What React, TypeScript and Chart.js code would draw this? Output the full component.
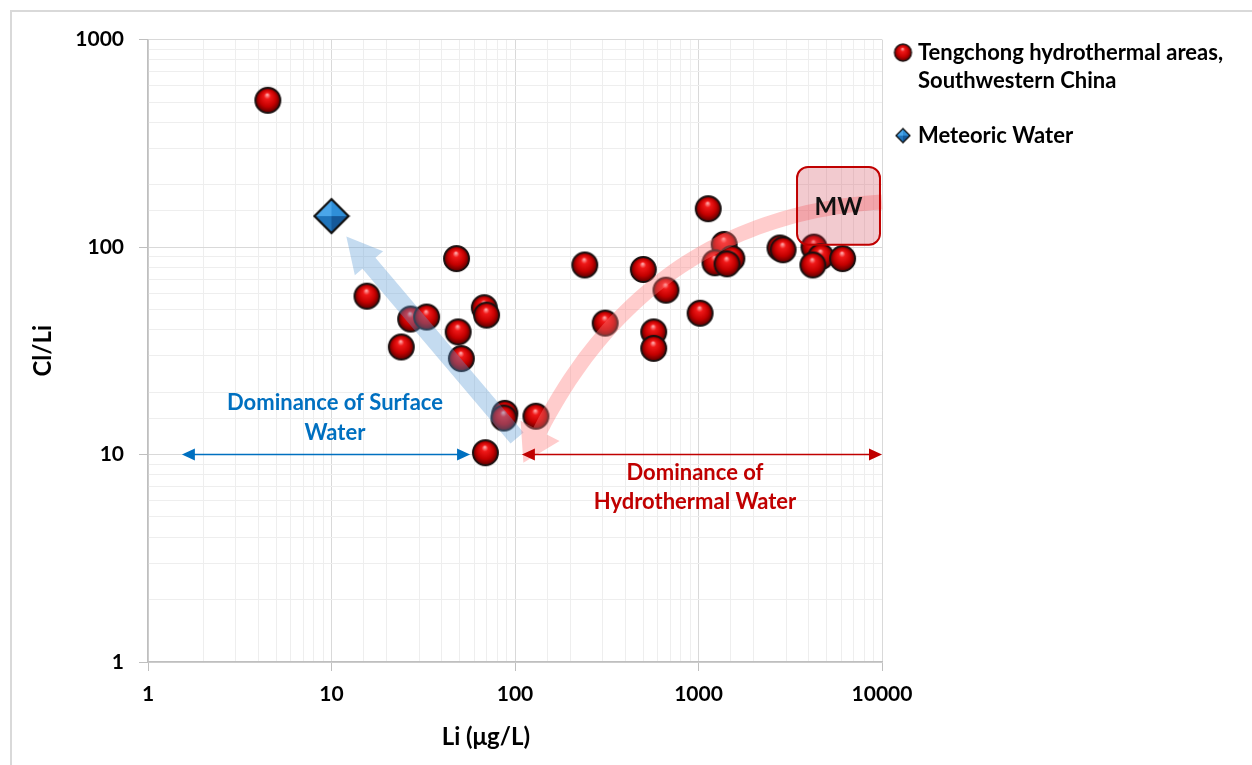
import React, { useEffect, useRef } from 'react';
import { Chart, registerables } from 'chart.js';

Chart.register(...registerables);

// ---------- data ----------
const tengchongLi = [4.5, 15.6, 48, 27, 33, 24, 49, 51, 68, 70, 88, 87, 69, 130, 240, 310, 500, 665, 570, 570, 1020, 1130, 1380, 1230, 1520, 1430, 2780, 2890, 4260, 4650, 4200, 6100];
const tengchongClLi = [510, 58, 88, 45, 46, 33, 39, 29, 51, 47, 15.8, 15, 10.2, 15.3, 82, 43, 78, 62, 39, 32.5, 48, 153, 103, 84, 88, 83, 99, 97, 100, 90, 82, 88];
const meteoricLi = [10];
const meteoricClLi = [141];

const seriesLabels = ['Tengchong hydrothermal areas, Southwestern China', 'Meteoric Water'];
const legendLines = [['Tengchong hydrothermal areas,', 'Southwestern China'], ['Meteoric Water']];

const xMin = 1;
const xMax = 10000;
const yMin = 1;
const yMax = 1000;
const xTitle = 'Li (μg/L)';
const yTitle = 'Cl/Li';

// annotation anchors (data units)
const surfaceArrowTail = [102.6, 12.0];
const surfaceArrowBase = [16.0, 83.6];
const hydroArrowStart = [10000, 165];
const hydroArrowControl = [544, 140];
const hydroArrowEnd = [137, 13.0];
const rangeLevel = 10;
const surfaceRange = [1.53, 56.9];
const hydroRange = [109, 10000];
const surfaceTextAt = [10.45, 17.7];
const surfaceTextLines = ['Dominance of Surface', 'Water'];
const hydroTextAt = [957, 8.17];
const hydroTextLines = ['Dominance of', 'Hydrothermal Water'];
const mwBoxX = [3443, 9750];
const mwBoxY = [243, 102.6];
const mwLabel = 'MW';

const FONT = 'Lato';

const isPow10 = (v: number) => {
  const l = Math.log10(v);
  return Math.abs(l - Math.round(l)) < 1e-6;
};

function makeSphere(d: number) {
  const s = Math.ceil(d) + 4;
  const c = document.createElement('canvas');
  c.width = s;
  c.height = s;
  const g = c.getContext('2d')!;
  const r = d / 2;
  const cx = s / 2;
  const cy = s / 2;
  const grad = g.createRadialGradient(cx - r * 0.05, cy - r * 0.45, r * 0.05, cx, cy, r);
  grad.addColorStop(0, '#ffa0a0');
  grad.addColorStop(0.22, '#f01818');
  grad.addColorStop(0.65, '#c40000');
  grad.addColorStop(1, '#5a0000');
  g.beginPath();
  g.arc(cx, cy, r, 0, Math.PI * 2);
  g.fillStyle = grad;
  g.fill();
  g.lineWidth = Math.max(1.2, d / 13);
  g.strokeStyle = '#1a1010';
  g.stroke();
  return c;
}

function makeDiamond(d: number) {
  const s = Math.ceil(d) + 4;
  const c = document.createElement('canvas');
  c.width = s;
  c.height = s;
  const g = c.getContext('2d')!;
  const h = d / 2;
  const cx = s / 2;
  const cy = s / 2;
  const face = (pts: number[][], col: string) => {
    g.beginPath();
    g.moveTo(pts[0][0], pts[0][1]);
    for (let i = 1; i < pts.length; i++) g.lineTo(pts[i][0], pts[i][1]);
    g.closePath();
    g.fillStyle = col;
    g.fill();
  };
  face([[cx, cy - h], [cx - h, cy], [cx, cy]], '#4aa6ea');
  face([[cx, cy - h], [cx + h, cy], [cx, cy]], '#2f8fd8');
  face([[cx - h, cy], [cx, cy + h], [cx, cy]], '#1f74bb');
  face([[cx + h, cy], [cx, cy + h], [cx, cy]], '#15599a');
  g.beginPath();
  g.moveTo(cx, cy - h);
  g.lineTo(cx + h, cy);
  g.lineTo(cx, cy + h);
  g.lineTo(cx - h, cy);
  g.closePath();
  g.lineWidth = Math.max(1.3, d / 15);
  g.strokeStyle = '#111';
  g.lineJoin = 'miter';
  g.stroke();
  return c;
}

function bandArrow(ctx: CanvasRenderingContext2D, pts: number[][], shaftW: number, headW: number, headL: number, fill: string) {
  const n = pts.length;
  const left: number[][] = [];
  const right: number[][] = [];
  for (let i = 0; i < n; i++) {
    const a = pts[Math.max(0, i - 1)];
    const b = pts[Math.min(n - 1, i + 1)];
    let dx = b[0] - a[0];
    let dy = b[1] - a[1];
    const L = Math.hypot(dx, dy) || 1;
    dx /= L;
    dy /= L;
    left.push([pts[i][0] - dy * shaftW / 2, pts[i][1] + dx * shaftW / 2]);
    right.push([pts[i][0] + dy * shaftW / 2, pts[i][1] - dx * shaftW / 2]);
  }
  const e = pts[n - 1];
  const p = pts[n - 2];
  let dx = e[0] - p[0];
  let dy = e[1] - p[1];
  const L = Math.hypot(dx, dy) || 1;
  dx /= L;
  dy /= L;
  const tip = [e[0] + dx * headL, e[1] + dy * headL];
  ctx.beginPath();
  ctx.moveTo(left[0][0], left[0][1]);
  for (let i = 1; i < n; i++) ctx.lineTo(left[i][0], left[i][1]);
  ctx.lineTo(e[0] - dy * headW / 2, e[1] + dx * headW / 2);
  ctx.lineTo(tip[0], tip[1]);
  ctx.lineTo(e[0] + dy * headW / 2, e[1] - dx * headW / 2);
  for (let i = n - 1; i >= 0; i--) ctx.lineTo(right[i][0], right[i][1]);
  ctx.closePath();
  ctx.fillStyle = fill;
  ctx.fill();
}

function doubleArrow(ctx: CanvasRenderingContext2D, x1: number, x2: number, y: number, color: string) {
  const hl = 13;
  const hw = 6;
  ctx.save();
  ctx.strokeStyle = color;
  ctx.fillStyle = color;
  ctx.lineWidth = 1.6;
  ctx.beginPath();
  ctx.moveTo(x1 + hl - 1, y);
  ctx.lineTo(x2 - hl + 1, y);
  ctx.stroke();
  ctx.beginPath();
  ctx.moveTo(x1, y);
  ctx.lineTo(x1 + hl, y - hw);
  ctx.lineTo(x1 + hl, y + hw);
  ctx.closePath();
  ctx.fill();
  ctx.beginPath();
  ctx.moveTo(x2, y);
  ctx.lineTo(x2 - hl, y - hw);
  ctx.lineTo(x2 - hl, y + hw);
  ctx.closePath();
  ctx.fill();
  ctx.restore();
}

export default function App() {
  const ref = useRef<HTMLCanvasElement | null>(null);

  useEffect(() => {
    if (!ref.current) return;
    const sphere = makeSphere(25);
    const diamond = makeDiamond(34);
    const legendSprites = [makeSphere(17), makeDiamond(14)];

    const annotationPlugin = {
      id: 'annotations',
      afterDatasetsDraw(chart: any) {
        const { ctx } = chart;
        const xs = chart.scales.x;
        const ys = chart.scales.y;
        const px = (v: number) => xs.getPixelForValue(v);
        const py = (v: number) => ys.getPixelForValue(v);
        ctx.save();

        // blue straight arrow
        bandArrow(
          ctx,
          [
            [px(surfaceArrowTail[0]), py(surfaceArrowTail[1])],
            [px(surfaceArrowBase[0]), py(surfaceArrowBase[1])],
          ],
          17, 37, 35, 'rgba(91,155,213,0.36)'
        );

        // pink curved arrow
        const p0 = [px(hydroArrowStart[0]), py(hydroArrowStart[1])];
        const p1 = [px(hydroArrowControl[0]), py(hydroArrowControl[1])];
        const p2 = [px(hydroArrowEnd[0]), py(hydroArrowEnd[1])];
        const curve: number[][] = [];
        const N = 48;
        for (let i = 0; i <= N; i++) {
          const t = i / N;
          const a = (1 - t) * (1 - t);
          const b = 2 * t * (1 - t);
          const c = t * t;
          curve.push([a * p0[0] + b * p1[0] + c * p2[0], a * p0[1] + b * p1[1] + c * p2[1]]);
        }
        bandArrow(ctx, curve, 15, 44, 36, 'rgba(255,120,120,0.38)');

        // MW box
        const bx1 = px(mwBoxX[0]);
        const bx2 = px(mwBoxX[1]);
        const by1 = py(mwBoxY[0]);
        const by2 = py(mwBoxY[1]);
        ctx.beginPath();
        ctx.roundRect(bx1, by1, bx2 - bx1, by2 - by1, 11);
        ctx.fillStyle = 'rgba(205,50,70,0.26)';
        ctx.fill();
        ctx.lineWidth = 2;
        ctx.strokeStyle = '#c00000';
        ctx.stroke();
        ctx.fillStyle = '#111';
        ctx.font = `bold 24px ${FONT}`;
        ctx.textAlign = 'center';
        ctx.textBaseline = 'middle';
        ctx.fillText(mwLabel, (bx1 + bx2) / 2, (by1 + by2) / 2 + 1);

        // range arrows
        doubleArrow(ctx, px(surfaceRange[0]), px(surfaceRange[1]), py(rangeLevel), '#0070c0');
        doubleArrow(ctx, px(hydroRange[0]), px(hydroRange[1]), py(rangeLevel), '#c00000');

        // range texts
        ctx.font = `bold 22px ${FONT}`;
        ctx.fillStyle = '#0070c0';
        surfaceTextLines.forEach((t, i) => ctx.fillText(t, px(surfaceTextAt[0]), py(surfaceTextAt[1]) + i * 30));
        ctx.fillStyle = '#c00000';
        hydroTextLines.forEach((t, i) => ctx.fillText(t, px(hydroTextAt[0]), py(hydroTextAt[1]) + i * 29));
        ctx.restore();
      },
      afterDraw(chart: any) {
        const { ctx } = chart;
        const area = chart.chartArea;
        ctx.save();
        ctx.font = `bold 22px ${FONT}`;
        ctx.fillStyle = '#000';
        ctx.textAlign = 'left';
        ctx.textBaseline = 'middle';
        const lx = area.right + 21;
        const tx = area.right + 36;
        let y = area.top + 13;
        legendLines.forEach((lines, i) => {
          const sp = legendSprites[i];
          ctx.drawImage(sp, lx - sp.width / 2, y - sp.height / 2);
          lines.forEach((l, j) => ctx.fillText(l, tx, y + j * 28));
          y += lines.length * 28 + 27;
        });
        ctx.restore();
      },
    };

    const tickFont = { family: FONT, size: 21, weight: 'bold' as const };
    const titleFont = { family: FONT, size: 24, weight: 'bold' as const };
    const gridColor = (c: any) => (c.tick && isPow10(c.tick.value) ? '#d9d9d9' : '#eeeeee');
    const tickColor = (c: any) => (c.tick && isPow10(c.tick.value) ? '#bfbfbf' : 'rgba(0,0,0,0)');
    const tickCb = (v: any) => (isPow10(Number(v)) ? String(Math.round(Number(v))) : '');

    const chart = new Chart(ref.current, {
      type: 'scatter',
      data: {
        datasets: [
          {
            label: seriesLabels[0],
            data: tengchongLi.map((x, i) => ({ x, y: tengchongClLi[i] })),
            pointStyle: sphere as any,
            pointRadius: 12,
            pointHoverRadius: 12,
            backgroundColor: '#c00000',
            borderColor: '#111',
            showLine: false,
          },
          {
            label: seriesLabels[1],
            data: meteoricLi.map((x, i) => ({ x, y: meteoricClLi[i] })),
            pointStyle: diamond as any,
            pointRadius: 16,
            pointHoverRadius: 16,
            backgroundColor: '#2e75b6',
            borderColor: '#111',
            showLine: false,
          },
        ],
      },
      options: {
        animation: false,
        responsive: false,
        events: [],
        layout: { padding: { left: 0, right: 370, top: 24, bottom: 3 } },
        plugins: { legend: { display: false }, tooltip: { enabled: false } },
        scales: {
          x: {
            type: 'logarithmic',
            position: 'bottom',
            min: xMin,
            max: xMax,
            afterFit: (s: any) => {
              s.height = 100;
            },
            ticks: { autoSkip: false, maxRotation: 0, minRotation: 0, padding: 11, color: '#000', font: tickFont, callback: tickCb },
            grid: { color: gridColor, tickColor, tickLength: 9, lineWidth: 1 },
            border: { color: '#bfbfbf', width: 1.5 },
            title: { display: true, text: xTitle + '          ', color: '#000', font: titleFont, padding: { top: 0, bottom: 10 } },
          },
          y: {
            type: 'logarithmic',
            position: 'left',
            min: yMin,
            max: yMax,
            afterFit: (s: any) => {
              s.width = 136;
            },
            ticks: { autoSkip: false, padding: 15, color: '#000', font: tickFont, callback: tickCb },
            grid: { color: gridColor, tickColor, tickLength: 9, lineWidth: 1 },
            border: { color: '#bfbfbf', width: 1.5 },
            title: { display: true, text: yTitle, color: '#000', font: titleFont, padding: { top: 17, bottom: 0 } },
          },
        },
      } as any,
      plugins: [annotationPlugin],
    });
    return () => chart.destroy();
  }, []);

  return (
    <div
      style={{
        position: 'fixed',
        left: 10,
        top: 10,
        width: 1250,
        height: 760,
        border: '2px solid #d9d9d9',
        background: '#fff',
      }}
    >
      <canvas ref={ref} width={1240} height={753} style={{ display: 'block', width: 1240, height: 753 }} />
    </div>
  );
}
